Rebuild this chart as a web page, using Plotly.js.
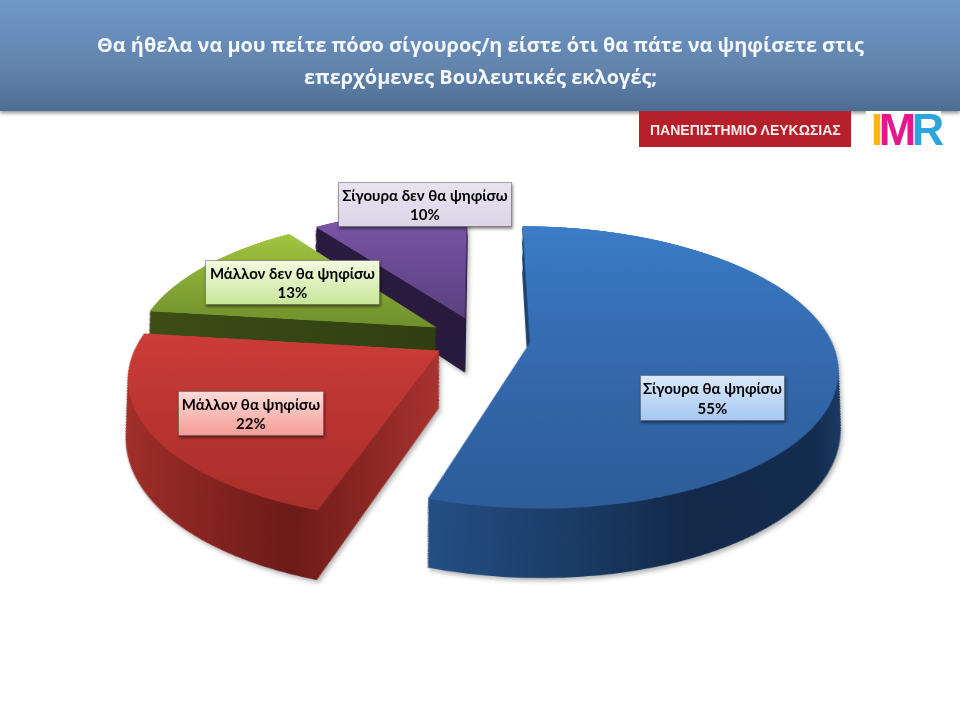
<!DOCTYPE html>
<html><head><meta charset="utf-8"><script src="https://cdn.plot.ly/plotly-3.0.1.min.js"></script>
<style>
html,body{margin:0;padding:0;background:#fff;overflow:hidden;width:960px;height:720px}
#stage{position:relative;width:960px;height:720px;overflow:hidden}
#banner{position:absolute;left:0;top:0;width:960px;height:111px;background:linear-gradient(#7098c6,#6a8fbd 25%,#6284ad 60%,#4d6d93);box-shadow:0 2px 4px rgba(0,0,0,.45)}
#shadow{position:absolute;left:0;top:0;width:960px;height:720px;filter:drop-shadow(2px 3px 2px rgba(0,0,0,.28))}
#pie{position:absolute;left:-20px;top:-161px;width:1000px;height:1000px;transform-origin:500px 500px;transform:perspective(1540px) rotateX(63.2deg)}
#over{position:absolute;left:0;top:0;width:960px;height:720px}
</style></head><body><div id="stage"><div id="banner"></div><div id="shadow"><div id="pie"></div></div><div id="over"></div></div>
<script>
const categories=["Σίγουρα θα ψηφίσω","Μάλλον θα ψηφίσω","Μάλλον δεν θα ψηφίσω","Σίγουρα δεν θα ψηφίσω"];
const values=[55,22,13,10];
const pulls=[0.167,0.157,0.17,0.165];
const topColors=["#3670b8","#c23733","#8db03a","#6f4f9a"];
const wallColors=["#16304f","#7f221e","#38491a","#2a1c40"];
const titleLines=["Θα ήθελα να μου πείτε πόσο σίγουρος/η είστε ότι θα πάτε να ψηφίσετε στις","επερχόμενες Βουλευτικές εκλογές;"];
const titleY=[44,77];
const boxX=[712.5,251,292,425];
const boxY=[398,413.5,282.5,204.5];
const boxW=[143,144,173,172];
const boxH=[44,43,43,43];
const logoText="ΠΑΝΕΠΙΣΤΗΜΙΟ ΛΕΥΚΩΣΙΑΣ";
const imrLetters=["I","M","R"];
const imrColors=["#fbb516","#e6168c","#2ba5dc"];

const half=0.352, depthPx=116, shrink=0.062, layers=42;
const traces=[];
for(let i=layers;i>=0;i--){
  const f=i/layers, shift=depthPx*f/1000, h=half*(1-shrink*f);
  traces.push({type:"pie",values:values,labels:categories,sort:false,direction:"clockwise",rotation:0,pull:pulls,
    marker:{colors:i===0?topColors:wallColors,line:{width:0}},textinfo:"none",hoverinfo:"skip",showlegend:false,
    domain:{x:[0.5-h,0.5+h],y:[0.5-h-shift,0.5+h-shift]}});
}
const pLayout={width:1000,height:1000,margin:{l:0,r:0,t:0,b:0,pad:0},paper_bgcolor:"rgba(0,0,0,0)",showlegend:false};

const X=p=>p/960, Y=p=>1-p/720;
const ann=[];
titleLines.forEach((t,i)=>ann.push({text:"<b>"+t+"</b>",xref:"paper",yref:"paper",x:X(480),y:Y(titleY[i]),showarrow:false,xanchor:"center",yanchor:"middle",font:{family:"'Open Sans', sans-serif",size:19.9,color:"#f4f8fc"}}));
categories.forEach((c,i)=>ann.push({text:"<b>"+c+"<br>"+values[i]+"%</b>",xref:"paper",yref:"paper",x:X(boxX[i]),y:Y(boxY[i]),showarrow:false,xanchor:"center",yanchor:"middle",width:boxW[i],height:boxH[i],borderpad:0,bgcolor:"#eeeeee",bordercolor:"rgba(90,90,90,.5)",borderwidth:1,font:{family:"Lato, 'Open Sans', sans-serif",size:15,color:"#000"}}));
ann.push({text:"<b>"+logoText+"</b>",xref:"paper",yref:"paper",x:X(745),y:Y(129.5),showarrow:false,xanchor:"center",yanchor:"middle",font:{family:"'Liberation Sans', sans-serif",size:14,color:"#f6ecec"}});
ann.push({text:"<b>"+imrLetters.map((l,i)=>"<span style='color:"+imrColors[i]+"'>"+l+"</span>").join("")+"</b>",xref:"paper",yref:"paper",x:X(905),y:Y(129),showarrow:false,xanchor:"center",yanchor:"middle",font:{family:"'Liberation Sans',sans-serif",size:45,color:"#2ba5dc"}});
const shapes=[
 {type:"rect",xref:"paper",yref:"paper",x0:X(639),x1:X(851),y0:Y(147),y1:Y(111),fillcolor:"#b5202a",line:{width:0}},
 {type:"rect",xref:"paper",yref:"paper",x0:X(866),x1:X(941),y0:Y(148),y1:Y(111),fillcolor:"#ffffff",line:{width:0}}
];
const oLayout={width:960,height:720,margin:{l:0,r:0,t:0,b:0},paper_bgcolor:"rgba(0,0,0,0)",plot_bgcolor:"rgba(0,0,0,0)",showlegend:false,annotations:ann,shapes:shapes,xaxis:{visible:false},yaxis:{visible:false}};

function defs(svg,list){
  const ns="http://www.w3.org/2000/svg";
  const d=document.createElementNS(ns,"defs");
  list.forEach(g=>{
    const lg=document.createElementNS(ns,"linearGradient");
    lg.setAttribute("id",g.id);lg.setAttribute("x1","0");lg.setAttribute("y1","0");
    lg.setAttribute("x2",g.h?"1":"0");lg.setAttribute("y2",g.h?"0":"1");
    g.s.forEach(s=>{const st=document.createElementNS(ns,"stop");st.setAttribute("offset",s[0]);st.setAttribute("stop-color",s[1]);lg.appendChild(st);});
    d.appendChild(lg);
  });
  svg.insertBefore(d,svg.firstChild);
}
Plotly.newPlot("pie",traces,pLayout,{staticPlot:true}).then(gd=>{
  const svg=gd.querySelector(".main-svg");
  defs(svg,[
   {id:"t0",s:[[0,"#3b7cc8"],[.55,"#346aae"],[1,"#2d5c99"]]},
   {id:"t1",s:[[0,"#cc3c38"],[1,"#a92e2b"]]},
   {id:"t2",s:[[0,"#a3c640"],[1,"#6f8f2c"]]},
   {id:"t3",s:[[0,"#7d58ac"],[1,"#5b4180"]]},
   {id:"w0",h:1,s:[[0,"#234f84"],[.3,"#1a3c66"],[.55,"#12294a"],[.88,"#142c4e"],[1,"#1c3e68"]]},
   {id:"w1",h:1,s:[[0,"#a5302b"],[.3,"#8c2622"],[.62,"#6b1b18"],[.7,"#7a201c"],[1,"#a93330"]]},
   {id:"w2",h:1,s:[[0,"#3c4d16"],[1,"#2f3f12"]]},
   {id:"w3",h:1,s:[[0,"#2a1c40"],[1,"#281a3c"]]}
  ]);
  const tr=svg.querySelectorAll(".pielayer .trace");
  tr.forEach((t,i)=>{
    const isTop=i===tr.length-1;
    t.querySelectorAll(".slice path.surface").forEach((p,k)=>{p.style.fill="url(#"+(isTop?"t":"w")+k+")";});
  });
});
Plotly.newPlot("over",[],oLayout,{staticPlot:true}).then(gd=>{
  const svg=gd.querySelector(".main-svg");
  defs(svg,[
   {id:"b0",s:[[0,"#dbe9fa"],[1,"#a5c8f2"]]},
   {id:"b1",s:[[0,"#fbdcd9"],[1,"#f59c96"]]},
   {id:"b2",s:[[0,"#f4fae0"],[1,"#c8e69a"]]},
   {id:"b3",s:[[0,"#e8e3f0"],[1,"#dcd5e8"]]}
  ]);
  gd.querySelectorAll(".annotation").forEach(a=>{
    const idx=+a.getAttribute("data-index");
    const r=a.querySelector("rect.bg");
    if(r&&idx>=2&&idx<6){r.style.fill="url(#b"+(idx-2)+")";r.style.filter="drop-shadow(1px 2px 1.5px rgba(0,0,0,.5))";}
    if(idx===7){const t=a.querySelector("text");if(t)t.style.letterSpacing="-4.5px";}
  });
});
</script></body></html>
